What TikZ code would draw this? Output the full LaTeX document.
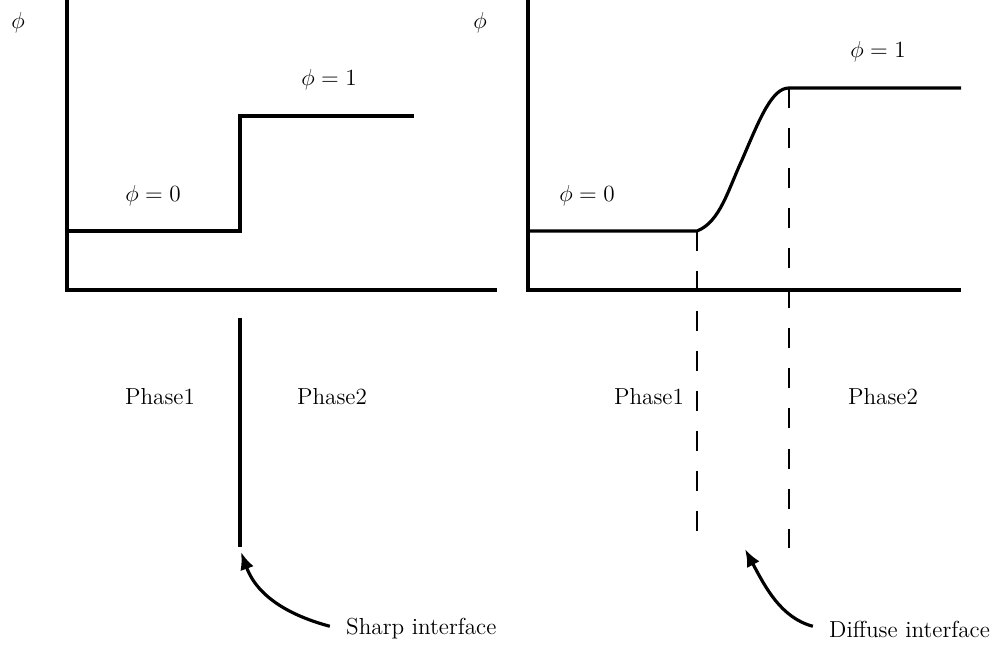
\documentclass[tikz,border=0pt]{standalone}
\usepackage{fix-cm}
\usepackage{fontspec}
\usetikzlibrary{arrows.meta}

\begin{document}
\begin{tikzpicture}[x=0.02cm,y=-0.02cm,
		every node/.style={font=\fontsize{13.2}{15}\selectfont},
		axis/.style={line width=1.8pt},
		profile/.style={line width=1.8pt,line join=miter},
		guide/.style={line width=1.2pt,dash pattern=on 11.4pt off 11.4pt},
		pointer/.style={line width=1.8pt,-{Latex[length=10pt,width=8pt]},shorten <=6pt}]
			\useasboundingbox (0,0) rectangle (1002,645);

			% Draw axes
			\draw[axis] (67,0) -- (67,290) -- (497,290);
			\draw[axis] (528,0) -- (528,290) -- (961,290);
			\node (phiL) at (18,23) {$\phi$};
			\node (phiR) at (480,23) {$\phi$};

			% Draw sharp profile
			\draw[profile] (67,231) -- (240,231) -- (240,116) -- (414,116);
			\node (zeroL) at (153,196) {$\phi=0$};
			\node (oneL) at (329,80) {$\phi=1$};

			% Draw diffuse profile
			\draw[profile] (528,231) -- (697,231) .. controls (720,222) and (728,190) .. (742,160)
				.. controls (760,118) and (772,88) .. (789,88) -- (961,88);
			\node (zeroR) at (587,196) {$\phi=0$};
			\node (oneR) at (878,52) {$\phi=1$};

			% Interfaces
			\draw[axis] (240,318) -- (240,547);
			\draw[guide] (697,231) -- (697,534);
			\draw[guide] (789,88) -- (789,548);

			% Label phases
			\node (phaseoneL) at (160,397) {Phase1};
			\node (phasetwoL) at (332,397) {Phase2};
			\node (phaseoneR) at (649,397) {Phase1};
			\node (phasetwoR) at (883,397) {Phase2};

			% Label interfaces
			\node[anchor=west] (sharp) at (340,629) {Sharp interface};
			\node[anchor=west] (diffuse) at (823,629) {Diffuse interface};
			\coordinate (sharptip) at (241,552);
			\coordinate (diffusetip) at (745,549);
			\draw[pointer] (sharp.west) to[out=165,in=-70] (sharptip);
			\draw[pointer] (diffuse.west) to[out=165,in=-62] (diffusetip);
		\end{tikzpicture}
\end{document}
